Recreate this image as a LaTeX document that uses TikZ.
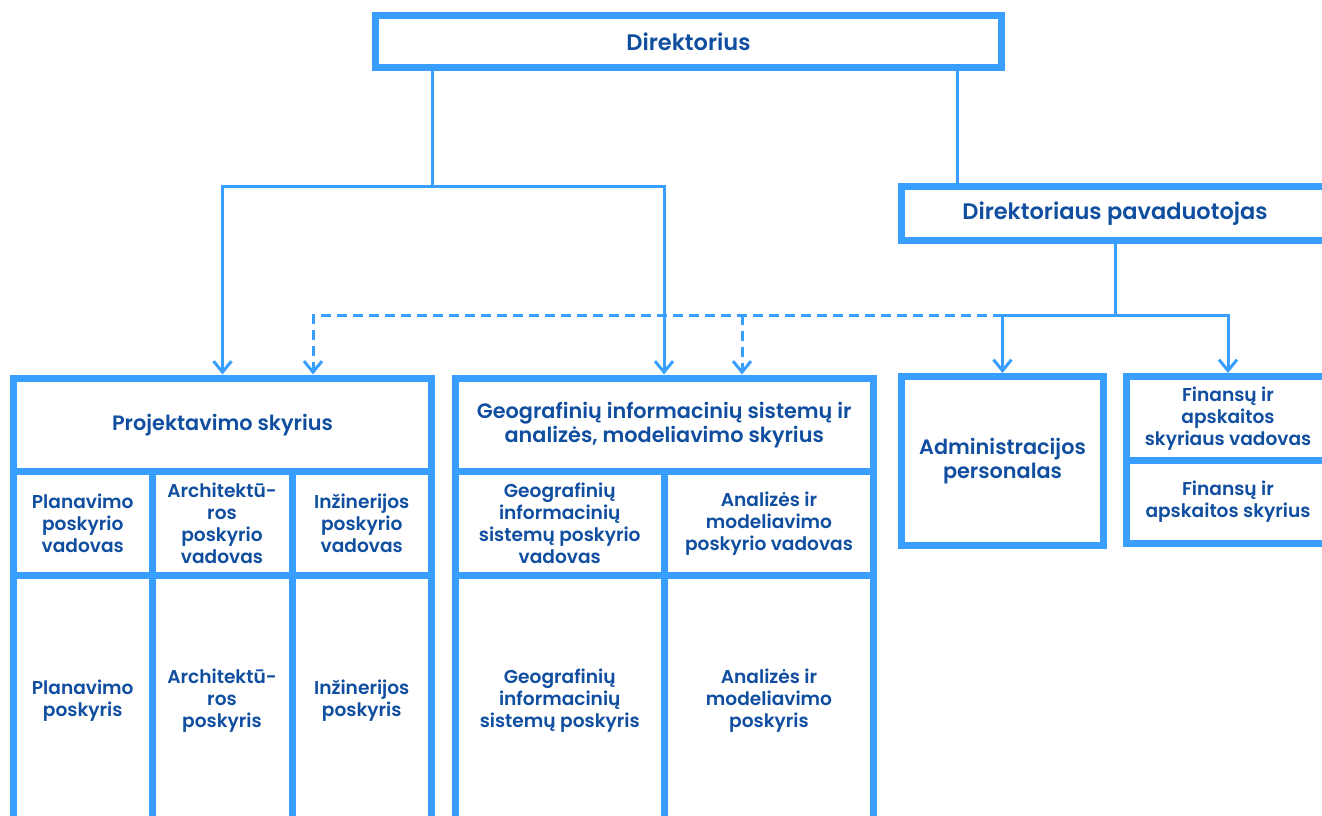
\documentclass[tikz,border=0pt]{standalone}
\usepackage{fontspec}
\setmainfont{Poppins}[UprightFont={* SemiBold}]
\usetikzlibrary{arrows.meta}

\definecolor{orgline}{RGB}{56,158,255}
\definecolor{orgtext}{RGB}{16,78,160}

\begin{document}
\begin{tikzpicture}[x=1pt,y=-1pt,
   >={Straight Barb[length=11pt,width=18pt]},
   box/.style={draw=orgline, line width=7pt, fill=white, text=orgtext, align=center,
               inner sep=0pt, font=\fontsize{20.8}{24}\selectfont},
   cell/.style={box, font=\fontsize{18.6}{22}\selectfont},
   link/.style={draw=orgline, line width=3pt},
   dlink/.style={link, dash pattern=on 10pt off 6pt}]
   \useasboundingbox (0,0) rectangle (1322,816);
   % top level
   \node[box, minimum width=626, minimum height=52, font=\fontsize{22.5}{26}\selectfont]
         (dir) at (688.5,41.5) {Direktorius};
   \node[box, minimum width=427, minimum height=53.5, font=\fontsize{22.5}{26}\selectfont]
         (pav) at (1115,213.25) {Direktoriaus pavaduotojas};
   % Projektavimo skyrius
   \node[box, minimum width=418, minimum height=93.5] (proj) at (222.5,424.75) {Projektavimo skyrius};
   \node[cell, minimum width=138.5, minimum height=104] (planV) at (82.75,523.5) {Planavimo\\poskyrio\\vadovas};
   \node[cell, minimum width=140, minimum height=104] (archV) at (222,523.5) {Architektū-\\ros\\poskyrio\\vadovas};
   \node[cell, minimum width=139.5, minimum height=104] (inzV) at (361.75,523.5) {Inžinerijos\\poskyrio\\vadovas};
   \node[cell, minimum width=138.5, minimum height=250] (plan) at (82.75,700.5) {Planavimo\\poskyris};
   \node[cell, minimum width=140, minimum height=250] (arch) at (222,700.5) {Architektū-\\ros\\poskyris};
   \node[cell, minimum width=139.5, minimum height=250] (inz) at (361.75,700.5) {Inžinerijos\\poskyris};
   % GIS skyrius
   \node[box, minimum width=418.5, minimum height=93.5] (geo) at (664.25,424.75)
         {Geografinių informacinių sistemų ir\\analizės, modeliavimo skyrius};
   \node[cell, minimum width=209.5, minimum height=104] (gisV) at (559.75,523.5)
         {Geografinių\\informacinių\\sistemų poskyrio\\vadovas};
   \node[cell, minimum width=209, minimum height=104] (anV) at (769,523.5)
         {Analizės ir\\modeliavimo\\poskyrio vadovas};
   \node[cell, minimum width=209.5, minimum height=250] (gis) at (559.75,700.5)
         {Geografinių\\informacinių\\sistemų poskyris};
   \node[cell, minimum width=209, minimum height=250] (an) at (769,700.5)
         {Analizės ir\\modeliavimo\\poskyris};
   % administracija, finansai
   \node[box, minimum width=202, minimum height=168.5] (adm) at (1002.5,460.75) {Administracijos\\personalas};
   \node[cell, minimum width=204, minimum height=84] (finV) at (1228,418.5)
         {Finansų ir\\apskaitos\\skyriaus vadovas};
   \node[cell, minimum width=204, minimum height=83] (fin) at (1228,502) {Finansų ir\\apskaitos skyrius};
   % connectors
   \coordinate (j1) at (432,186);
   \coordinate (j2) at (1115,315);
   \draw[dlink,->] (adm.north |- j2) -| (proj.north -| 313,0);
   \draw[dlink,->] (742,0 |- j2) -- (geo.north -| 742,0);
   \draw[link] (j1 |- dir.south) -- (j1);
   \draw[link,->] (j1) -| (proj.north);
   \draw[link,->] (j1) -| (geo.north -| 664,0);
   \draw[link] (957,0 |- dir.south) -- (pav.north -| 957,0);
   \draw[link] (pav.south) -- (j2);
   \draw[link,->] (j2) -| (adm.north);
   \draw[link,->] (j2) -| (finV.north);
\end{tikzpicture}
\end{document}
